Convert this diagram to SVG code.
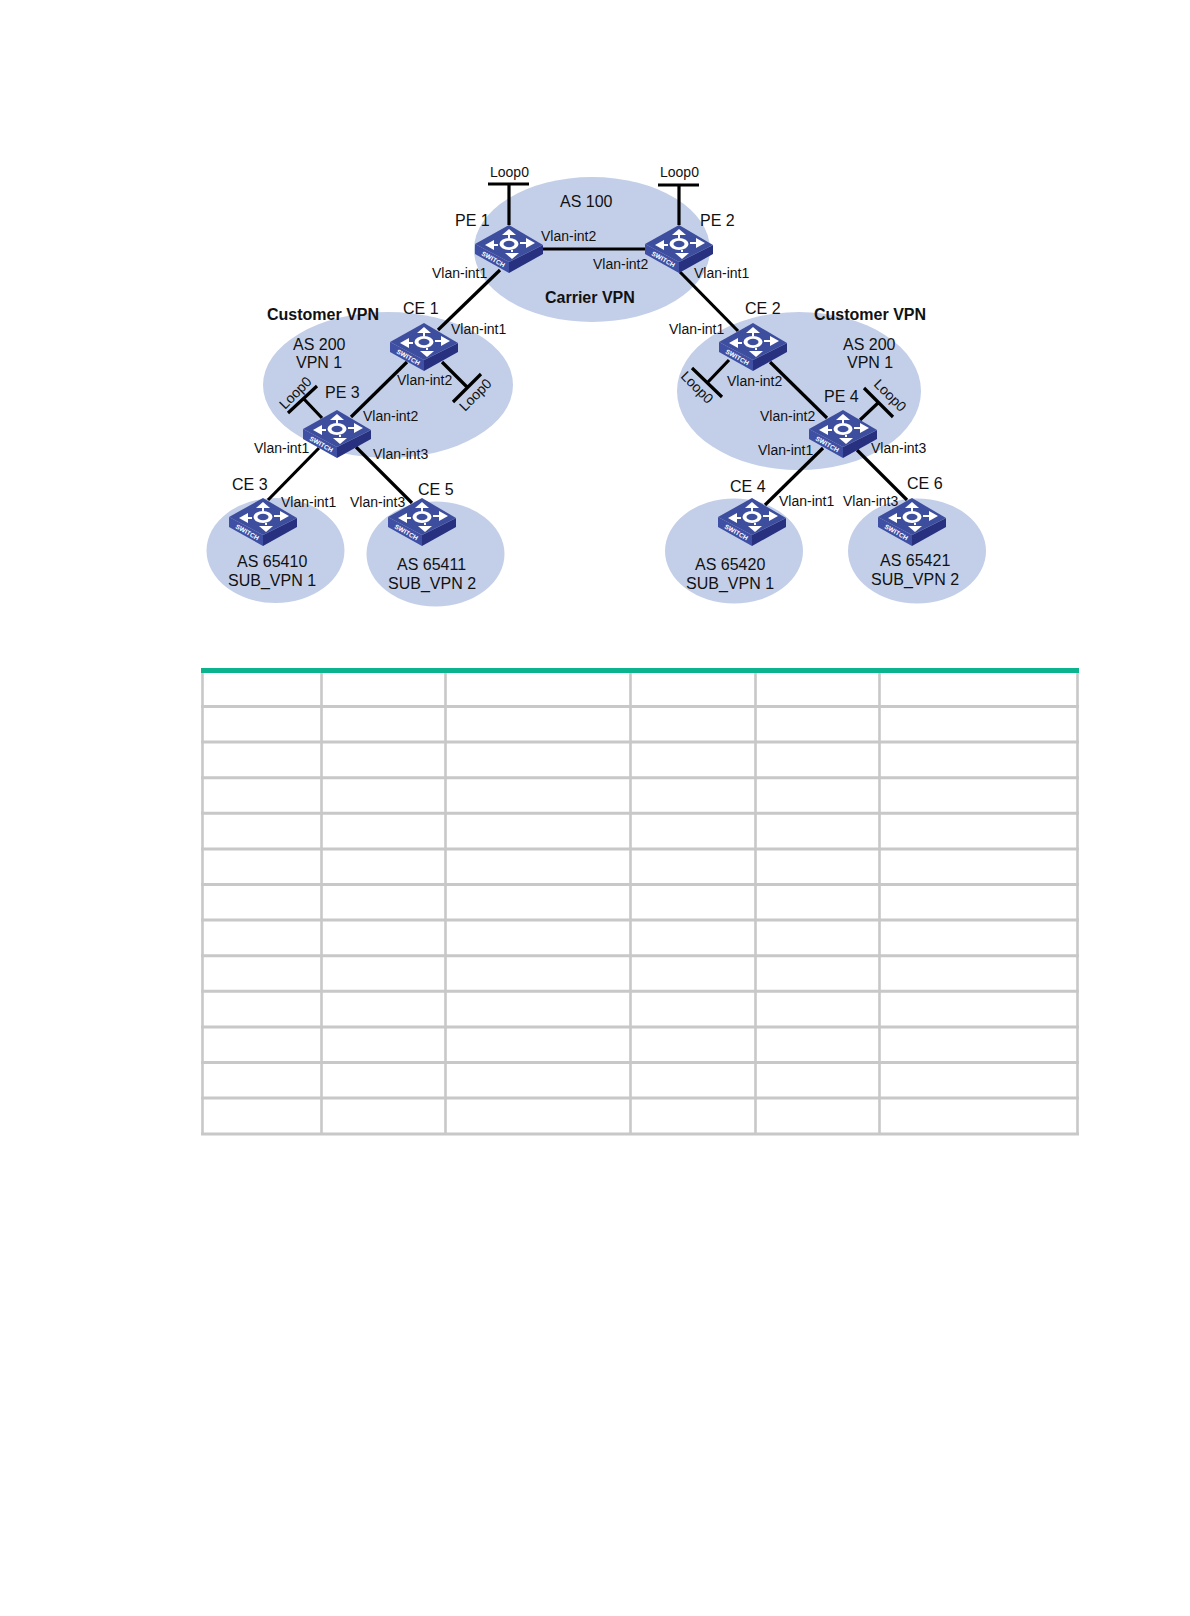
<svg xmlns="http://www.w3.org/2000/svg" width="1190" height="1616" viewBox="0 0 1190 1616">
<style>
text{font-family:"Liberation Sans",Arial,sans-serif;fill:#111}
.s{font-size:14px}
.m{font-size:16px}
.b{font-size:16px;font-weight:bold}
.a{fill:#c3cfe8}
.l{stroke:#000;stroke-width:3.2;fill:none}
.g{stroke:#c8c8c8;fill:none}
.h{stroke-width:3}
.v{stroke-width:2.6}
.sw{font-size:6.5px;font-weight:bold;fill:#fff}
.ar{stroke:#fff;stroke-width:2;fill:none}
.ah{fill:#fff}
</style>
<defs>
<g id="sw">
<polygon points="-34,19 0,37 0,48 -34,29" fill="#3f4fa3"/>
<polygon points="34,20 0,37 0,48 34,29" fill="#27317f"/>
<polygon points="0,0 34,20 0,37 -34,19" fill="#3e4e9e"/>
<path class="ar" d="M-15,20H-11M17,18H11M0,10V13M3,27V25"/>
<polygon class="ah" points="-24,20 -15,15 -15,25"/>
<polygon class="ah" points="26,18 17,13 17,23"/>
<polygon class="ah" points="0,4 7,10 -7,10"/>
<polygon class="ah" points="3,34 -4,28 10,28"/>
<ellipse cx="0" cy="19" rx="9.500" ry="6" fill="#fff"/>
<ellipse cx="0" cy="19" rx="5.500" ry="3.200" fill="#3e4e9e"/>
<text class="sw" transform="translate(-28,30) rotate(29)">SWITCH</text>
</g>
</defs>
<rect width="1190" height="1616" fill="#fff"/>
<g id="areas">
<ellipse class="a" cx="592" cy="249.500" rx="118" ry="72.500"/>
<ellipse class="a" cx="388" cy="385" rx="125" ry="73"/>
<ellipse class="a" cx="799" cy="391" rx="122" ry="79"/>
<ellipse class="a" cx="275.500" cy="550.500" rx="69" ry="52.500"/>
<ellipse class="a" cx="435.500" cy="554" rx="69" ry="52.500"/>
<ellipse class="a" cx="734" cy="551" rx="69" ry="52.500"/>
<ellipse class="a" cx="917" cy="551" rx="69" ry="52.500"/>
</g>
<g id="connectors">
<path class="l" d="M509,225V184M488,184H529"/>
<path class="l" d="M679,225V185M658,185H699"/>
<path class="l" d="M543,249H645"/>
<path class="l" d="M500,270L438,330"/>
<path class="l" d="M407,362L351,417"/>
<path class="l" d="M442,362L467,387M453,402L481,374"/>
<path class="l" d="M322,418L303,398M288,413L317,386"/>
<path class="l" d="M319,448L268,500"/>
<path class="l" d="M356,447L412,503"/>
<path class="l" d="M680,272L738,331"/>
<path class="l" d="M770,362L827,418"/>
<path class="l" d="M729,360L708,382M692,368L722,397"/>
<path class="l" d="M860,420L879,402M864,388L893,417"/>
<path class="l" d="M823,448L765,505"/>
<path class="l" d="M857,450L907,500"/>
</g>
<g id="PE1"><use href="#sw" x="509" y="225"/><text class="m" x="455" y="226">PE 1</text></g>
<g id="PE2"><use href="#sw" x="679" y="225"/><text class="m" x="700" y="226">PE 2</text></g>
<g id="CE1"><use href="#sw" x="424" y="323"/><text class="m" x="403" y="314">CE 1</text></g>
<g id="CE2"><use href="#sw" x="753" y="323"/><text class="m" x="745" y="314">CE 2</text></g>
<g id="PE3"><use href="#sw" x="337" y="410"/><text class="m" x="325" y="398">PE 3</text></g>
<g id="PE4"><use href="#sw" x="843" y="410"/><text class="m" x="824" y="402">PE 4</text></g>
<g id="CE3"><use href="#sw" x="263" y="498"/><text class="m" x="232" y="490">CE 3</text></g>
<g id="CE5"><use href="#sw" x="422" y="498"/><text class="m" x="418" y="495">CE 5</text></g>
<g id="CE4"><use href="#sw" x="752" y="498"/><text class="m" x="730" y="492">CE 4</text></g>
<g id="CE6"><use href="#sw" x="912" y="498"/><text class="m" x="907" y="489">CE 6</text></g>
<g id="labels">
<text class="s" x="490" y="177">Loop0</text>
<text class="s" x="660" y="177">Loop0</text>
<text class="m" x="560" y="207">AS 100</text>
<text class="b" x="545" y="303">Carrier VPN</text>
<text class="s" x="541" y="241">Vlan-int2</text>
<text class="s" x="593" y="269">Vlan-int2</text>
<text class="s" x="432" y="278">Vlan-int1</text>
<text class="s" x="694" y="278">Vlan-int1</text>
<text class="b" x="267" y="320">Customer VPN</text>
<text class="s" x="451" y="334">Vlan-int1</text>
<text class="m" x="293" y="350">AS 200</text>
<text class="m" x="296" y="368">VPN 1</text>
<text class="s" x="397" y="385">Vlan-int2</text>
<text class="s" transform="translate(285,410) rotate(-45)">Loop0</text>
<text class="s" transform="translate(465,412) rotate(-45)">Loop0</text>
<text class="s" x="363" y="421">Vlan-int2</text>
<text class="s" x="254" y="453">Vlan-int1</text>
<text class="s" x="373" y="459">Vlan-int3</text>
<text class="b" x="814" y="320">Customer VPN</text>
<text class="m" x="843" y="350">AS 200</text>
<text class="m" x="847" y="368">VPN 1</text>
<text class="s" x="669" y="334">Vlan-int1</text>
<text class="s" x="727" y="386">Vlan-int2</text>
<text class="s" transform="translate(680,377) rotate(45)">Loop0</text>
<text class="s" transform="translate(873,385) rotate(45)">Loop0</text>
<text class="s" x="760" y="421">Vlan-int2</text>
<text class="s" x="758" y="455">Vlan-int1</text>
<text class="s" x="871" y="453">Vlan-int3</text>
<text class="s" x="281" y="507">Vlan-int1</text>
<text class="s" x="350" y="507">Vlan-int3</text>
<text class="s" x="779" y="506">Vlan-int1</text>
<text class="s" x="843" y="506">Vlan-int3</text>
<text class="m" x="237" y="567">AS 65410</text>
<text class="m" x="228" y="586">SUB_VPN 1</text>
<text class="m" x="397" y="570">AS 65411</text>
<text class="m" x="388" y="589">SUB_VPN 2</text>
<text class="m" x="695" y="570">AS 65420</text>
<text class="m" x="686" y="589">SUB_VPN 1</text>
<text class="m" x="880" y="566">AS 65421</text>
<text class="m" x="871" y="585">SUB_VPN 2</text>
</g>
<g id="table">
<path class="g v" d="M202.500,671V1135M321.500,671V1135M445.500,671V1135M630.500,671V1135M755.500,671V1135M879.500,671V1135M1077.500,671V1135"/>
<path class="g h" d="M201,706.500H1079M201,742.100H1079M201,777.700H1079M201,813.300H1079M201,848.900H1079M201,884.500H1079M201,920.100H1079M201,955.700H1079M201,991.300H1079M201,1026.900H1079M201,1062.500H1079M201,1098.100H1079M201,1134H1079"/>
<rect x="201" y="668" width="878" height="5" fill="#0bb38f"/>
</g>
</svg>
